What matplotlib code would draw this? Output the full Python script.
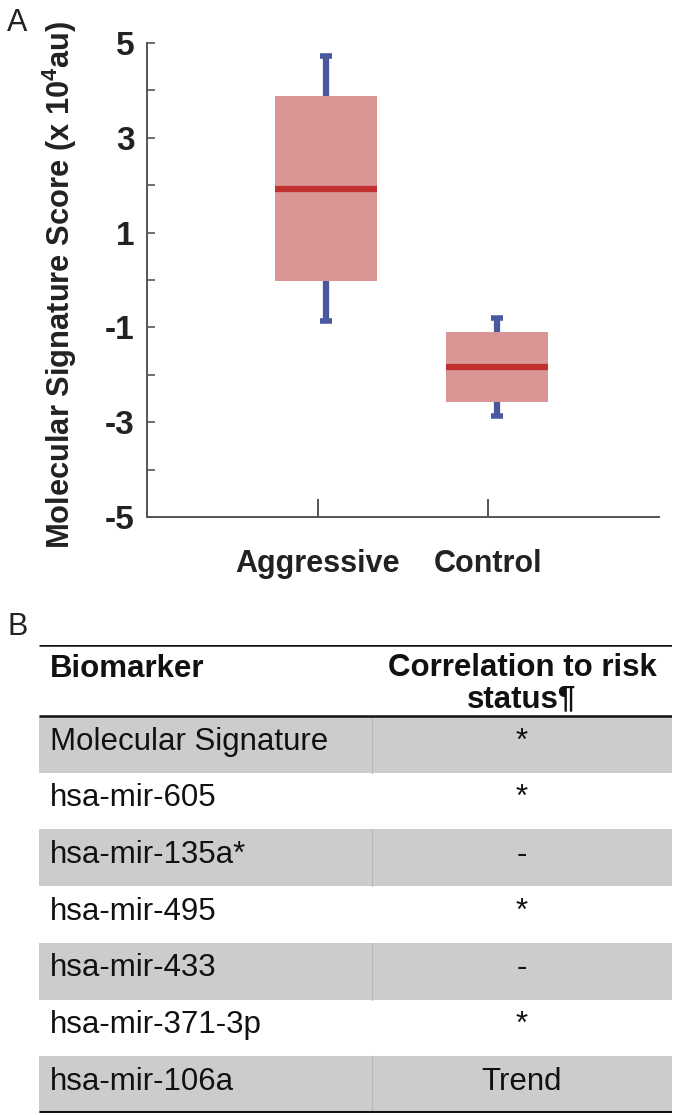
import matplotlib
matplotlib.use("Agg")
import matplotlib.pyplot as plt
from matplotlib.patches import Rectangle

plt.rcParams['font.family'] = ['Liberation Sans', 'DejaVu Sans']
plt.rcParams['mathtext.fontset'] = 'custom'
plt.rcParams['mathtext.rm'] = 'Liberation Sans:bold'
plt.rcParams['mathtext.bf'] = 'Liberation Sans:bold'

# ---------------- data ----------------
groups = ["Aggressive", "Control"]
whisker_low = [-0.86, -2.87]
q1 = [-0.02, -2.57]
median = [1.92, -1.84]
q3 = [3.88, -1.10]
whisker_high = [4.73, -0.80]

y_major = [5, 3, 1, -1, -3, -5]
y_minor = [4, 2, 0, -2, -4]

biomarkers = ["Molecular Signature", "hsa-mir-605", "hsa-mir-135a*", "hsa-mir-495",
              "hsa-mir-433", "hsa-mir-371-3p", "hsa-mir-106a"]
correlation = ["*", "*", "-", "*", "-", "*", "Trend"]
header = ["Biomarker", "Correlation to risk\nstatus\u00b6"]

# ---------------- figure ----------------
W, H = 677, 1115
fig = plt.figure(figsize=(W / 100, H / 100), dpi=100)

def fx(px):
    return px / W

def fy(py):
    return 1 - py / H

# Panel A
ax_l, ax_r, ax_t, ax_b = 147, 659, 43, 517
ax = fig.add_axes([fx(ax_l), fy(ax_b), fx(ax_r - ax_l), (ax_b - ax_t) / H])

box_col = "#D99694"
med_col = "#C0302E"
whis_col = "#4A58A0"
positions = [i + 1.05 for i in range(len(groups))]
stats = []
for i, g in enumerate(groups):
    stats.append(dict(label=g, med=median[i], q1=q1[i], q3=q3[i],
                      whislo=whisker_low[i], whishi=whisker_high[i], fliers=[]))
ax.bxp(stats, positions=positions, widths=0.6, capwidths=0.07, patch_artist=True,
       showfliers=False, manage_ticks=False,
       boxprops=dict(facecolor=box_col, edgecolor=box_col, linewidth=0),
       medianprops=dict(color=med_col, linewidth=4.5, solid_capstyle='butt'),
       whiskerprops=dict(color=whis_col, linewidth=4.5, solid_capstyle='butt'),
       capprops=dict(color=whis_col, linewidth=4.0, solid_capstyle='butt'))

ax.set_xlim(0, 3)
ax.set_ylim(-5, 5)
ax.set_xticks([1, 2])
ax.set_xticklabels(groups, fontsize=22, fontweight='bold', color='#222222')
ax.set_yticks(y_major)
ax.set_yticks(y_minor, minor=True)
ax.set_yticklabels([str(v) for v in y_major], fontsize=24, fontweight='bold', color='#222222')
for s in ['top', 'right']:
    ax.spines[s].set_visible(False)
for s in ['left', 'bottom']:
    ax.spines[s].set_color('#555555')
    ax.spines[s].set_linewidth(1.4)
ax.tick_params(axis='x', direction='in', length=13, width=1.4, color='#555555', pad=23)
ax.tick_params(axis='y', which='both', direction='in', length=6, width=1.2, color='#555555', pad=9)
ax.set_ylabel(r"Molecular Signature Score (x $\mathrm{10^4}$au)", fontsize=22.2,
              fontweight='bold', color='#222222')
ax.yaxis.set_label_coords((79 - ax_l) / (ax_r - ax_l), 0.49)

fig.text(fx(7), fy(8), "A", fontsize=22, ha='left', va='top', color='#222222')
fig.text(fx(7), fy(612), "B", fontsize=22, ha='left', va='top', color='#222222')

# Panel B table
t_l, t_r, t_t, t_b = 39, 672, 645, 1113
hdr_h = 71
tax = fig.add_axes([fx(t_l), fy(t_b), fx(t_r - t_l), (t_b - t_t) / H])
tax.set_xlim(t_l, t_r)
tax.set_ylim(t_b, t_t)
tax.axis('off')
n = len(biomarkers)
row_h = (t_b - t_t - hdr_h) / n
col_split = 372
gray = "#CCCCCC"

for i, (b, c) in enumerate(zip(biomarkers, correlation)):
    top = t_t + hdr_h + i * row_h
    if i % 2 == 0:
        tax.add_patch(Rectangle((t_l, top), t_r - t_l, row_h, facecolor=gray,
                                edgecolor='none', zorder=0))
        tax.plot([col_split, col_split], [top, top + row_h], color='#B8B8B8',
                 lw=0.8, zorder=1)
    ty = top + row_h * 0.45
    tax.text(50, ty, b, fontsize=22.5, ha='left', va='center', color='#111111')
    tax.text((col_split + t_r) / 2, ty, c, fontsize=22.5, ha='center', va='center',
             color='#111111')

tax.text(50, t_t + 24, header[0], fontsize=22.5, fontweight='bold', ha='left',
         va='center', color='#111111')
tax.text((col_split + t_r) / 2, t_t + 39, header[1], fontsize=22.5, fontweight='bold',
         ha='center', va='center', color='#111111', linespacing=1.05)

tax.plot([t_l, t_r], [t_t, t_t], color='#111111', lw=1.8, solid_capstyle='butt')
tax.plot([t_l, t_r], [t_t + hdr_h, t_t + hdr_h], color='#111111', lw=1.8,
         solid_capstyle='butt')
tax.plot([t_l, t_r], [t_b - 1, t_b - 1], color='#111111', lw=2.2, solid_capstyle='butt')

fig.savefig("out.png", dpi=100)
